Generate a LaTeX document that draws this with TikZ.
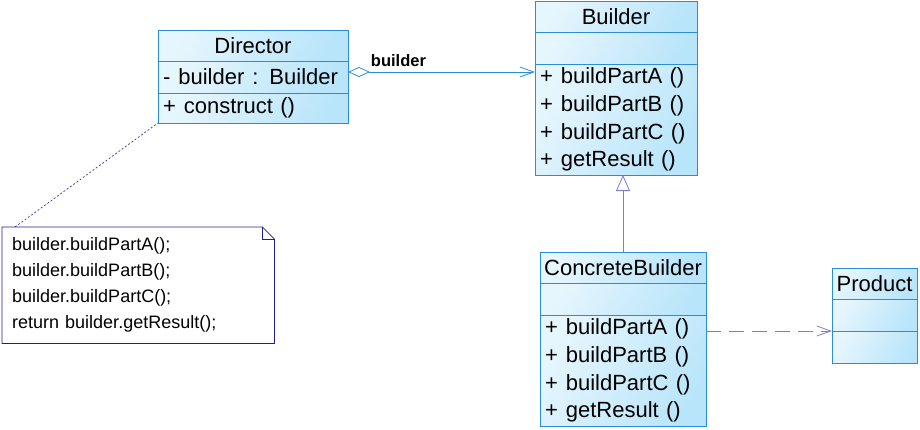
\documentclass[tikz,border=0pt]{standalone}
\usepackage{fontspec}
\setmainfont{Liberation Sans}
\usetikzlibrary{arrows.meta, positioning}
\definecolor{clsline}{RGB}{45,140,215}
\definecolor{clsfill}{RGB}{185,229,250}
\definecolor{relline}{RGB}{125,125,215}
\definecolor{noteline}{RGB}{30,30,150}
\newcommand{\mgap}{\hspace{8pt}}

\begin{document}
\begin{tikzpicture}[
    x=1pt, y=1pt,
    node distance=0pt,
    part/.style={rectangle, draw=clsline, line width=1pt, left color=clsfill!35, right color=clsfill, shading angle=60, outer sep=0pt, inner xsep=5pt, inner ysep=2pt, font=\fontsize{22}{27.7}\selectfont},
    head/.style={part, minimum height=31pt, inner xsep=2pt, align=center},
    attr/.style={part, minimum height=32pt, align=left},
    meth/.style={part, align=left},
    notebox/.style={rectangle, inner xsep=10pt, align=left, font=\fontsize{18}{26}\selectfont},
    aggr/.style={draw=clsline, line width=0.8pt, {Diamond[open, length=22pt, width=10pt]}-{Straight Barb[length=14pt, width=10pt]}},
    inherit/.style={draw=relline, line width=0.8pt, -{Triangle[open, length=16pt, width=14pt, fill=white]}},
    depend/.style={draw=relline, line width=0.8pt, dash pattern=on 15pt off 8pt, -{Straight Barb[length=14pt, width=10pt]}},
    notelink/.style={draw=noteline, line width=0.6pt, dash pattern=on 2pt off 2pt}
]
\useasboundingbox (0,0) rectangle (920,-429);

% Director
\node[head, anchor=north west, text width=186pt] (dhead) at (158,-30) {Director};
\node[attr, below=of dhead, text width=180pt] (dattr) {-\mgap builder\mgap : Builder};
\node[meth, below=of dattr, text width=180pt, minimum height=30pt] (dmeth) {+\mgap construct ()};

% Builder
\node[head, anchor=north west, text width=158pt] (bhead) at (535,-1) {Builder};
\node[attr, below=of bhead, text width=152pt] (battr) {};
\node[meth, below=of battr, text width=152pt, minimum height=111pt] (bmeth) {+\mgap buildPartA ()\\+\mgap buildPartB ()\\+\mgap buildPartC ()\\+\mgap getResult ()};

% ConcreteBuilder
\node[head, anchor=north west, text width=162pt] (cbhead) at (540,-252) {ConcreteBuilder};
\node[attr, below=of cbhead, text width=156pt] (cbattr) {};
\node[meth, below=of cbattr, text width=156pt, minimum height=111pt] (cbmeth) {+\mgap buildPartA ()\\+\mgap buildPartB ()\\+\mgap buildPartC ()\\+\mgap getResult ()};

% Product
\node[head, anchor=north west, text width=81pt] (phead) at (832,-268) {Product};
\node[attr, below=of phead, text width=75pt] (pattr) {};
\node[meth, below=of pattr, text width=75pt, minimum height=32pt] (pmeth) {};

% Note
\node[notebox, anchor=north west, minimum width=272pt, minimum height=116pt, text width=252pt] (note) at (2,-227)
  {builder.buildPartA();\\builder.buildPartB();\\builder.buildPartC();\\return builder.getResult();};
\draw[noteline, line width=0.8pt] (note.north west) -- ([xshift=-12pt]note.north east) -- ([yshift=-12pt]note.north east) -- (note.south east) -- (note.south west) -- cycle;
\draw[noteline, line width=0.8pt] ([xshift=-12pt]note.north east) |- ([yshift=-12pt]note.north east);

% Relations
\draw[aggr] ([yshift=5pt]dattr.east) -- node[pos=0.27, above=2pt, font=\fontsize{16.5}{16}\selectfont\bfseries] {builder} ([yshift=5pt]dattr.east -| bmeth.west);
\draw[inherit] (cbhead.north) -- (cbhead.north |- bmeth.south);
\draw[depend] (cbmeth.east |- pmeth.north) -- (pmeth.north west);
\draw[notelink] ([xshift=13pt]note.north west) -- (dmeth.south west);

\end{tikzpicture}
\end{document}
